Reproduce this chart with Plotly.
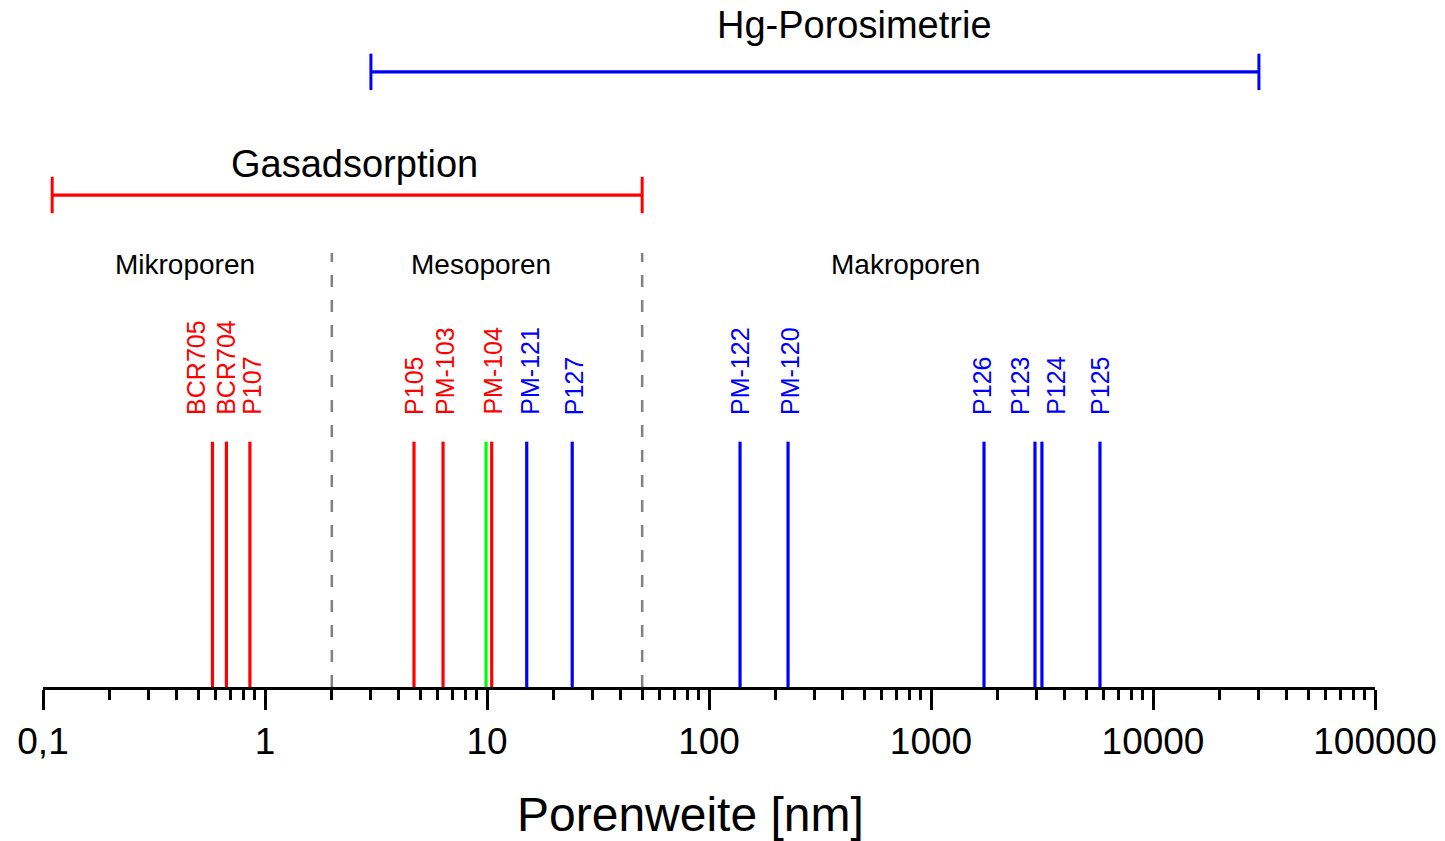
import math
import plotly.graph_objects as go

# ---- data ----
samples = ["BCR705", "BCR704", "P107", "P105", "PM-103", "PM-104",
           "PM-121", "P127", "PM-122", "PM-120", "P126", "P123", "P124", "P125"]
pore_width_nm = [0.58, 0.67, 0.855, 4.69, 6.34, 10.5,
                 15.1, 24.2, 138, 227, 1733, 2940, 3160, 5770]
sample_method = ["Gas", "Gas", "Gas", "Gas", "Gas", "Gas",
                 "Hg", "Hg", "Hg", "Hg", "Hg", "Hg", "Hg", "Hg"]
extra_line_nm = [9.9]          # unlabeled green line
line_height = 1.0

region_bounds_nm = [2, 50]     # micro/meso and meso/macro boundaries
region_names = ["Mikroporen", "Mesoporen", "Makroporen"]
region_label_x = [0.437, 9.4, 771]

gas_range_nm = [0.11, 50]
hg_range_nm = [3.0, 30000]
gas_title_x = 2.54
hg_title_x = 450

tick_vals = [0.1, 1, 10, 100, 1000, 10000, 100000]
tick_text = ["0,1", "1", "10", "100", "1000", "10000", "100000"]
x_title = "Porenweite [nm]"

# ---- styles ----
RED, BLUE, GREEN, GREY = "#FF0000", "#0000FF", "#00FF00", "#808080"
FONT = "Liberation Sans, Arial, sans-serif"
label_xshift = [-16, 0, 2, 0, 2, 1, 3, 2, 0, 2, -2, -15, 14, 0]

Y_MAX = 2.8
Y_LABEL = 1.113
Y_REGION_TOP = 1.769
Y_REGION_TEXT = 1.72
Y_GAS = 2.005
Y_HG = 2.507

fig = go.Figure()

# sample lines
for x, m in zip(pore_width_nm, sample_method):
    fig.add_trace(go.Scatter(x=[x, x], y=[0, line_height], mode="lines",
                             line=dict(color=RED if m == "Gas" else BLUE, width=3.2),
                             showlegend=False, hoverinfo="skip"))
for x in extra_line_nm:
    fig.add_trace(go.Scatter(x=[x, x], y=[0, line_height], mode="lines",
                             line=dict(color=GREEN, width=3.2),
                             showlegend=False, hoverinfo="skip"))

# region boundaries
for b in region_bounds_nm:
    fig.add_trace(go.Scatter(x=[b, b], y=[0, Y_REGION_TOP], mode="lines",
                             line=dict(color=GREY, width=2.5, dash="12px,13px"),
                             showlegend=False, hoverinfo="skip"))

# method ranges
for rng, yv, col in [(gas_range_nm, Y_GAS, RED), (hg_range_nm, Y_HG, BLUE)]:
    fig.add_trace(go.Scatter(x=rng, y=[yv, yv], mode="lines+markers",
                             line=dict(color=col, width=3.2),
                             marker=dict(symbol="line-ns", size=26,
                                         line=dict(color=col, width=3)),
                             showlegend=False, hoverinfo="skip"))

annotations = []
for s, x, m, dx in zip(samples, pore_width_nm, sample_method, label_xshift):
    annotations.append(dict(x=math.log10(x), y=Y_LABEL, xref="x", yref="y", text=s,
                            textangle=-90, showarrow=False, xanchor="center",
                            yanchor="bottom", xshift=dx, yshift=-3,
                            font=dict(family=FONT, size=25,
                                      color=RED if m == "Gas" else BLUE)))
for name, x in zip(region_names, region_label_x):
    annotations.append(dict(x=math.log10(x), y=Y_REGION_TEXT, xref="x", yref="y",
                            text=name, showarrow=False, xanchor="center",
                            yanchor="middle",
                            font=dict(family=FONT, size=28, color="black")))
annotations.append(dict(x=math.log10(gas_title_x), y=Y_GAS, xref="x", yref="y",
                        text="Gasadsorption", showarrow=False, xanchor="center",
                        yanchor="bottom", yshift=8,
                        font=dict(family=FONT, size=38, color="black")))
annotations.append(dict(x=math.log10(hg_title_x), y=Y_HG, xref="x", yref="y",
                        text="Hg-Porosimetrie", showarrow=False, xanchor="center",
                        yanchor="bottom", yshift=24,
                        font=dict(family=FONT, size=38, color="black")))
annotations.append(dict(x=0.486, y=0, xref="paper", yref="paper", text=x_title,
                        showarrow=False, xanchor="center", yanchor="middle",
                        yshift=-127, borderpad=0,
                        font=dict(family=FONT, size=48, color="black")))

minor_vals = [k * 10 ** e for e in range(-1, 5) for k in range(2, 10)]

fig.update_layout(
    width=1445, height=841,
    margin=dict(l=43, r=70, t=0, b=154),
    paper_bgcolor="white", plot_bgcolor="white",
    annotations=annotations,
    font=dict(family=FONT, color="black"),
    xaxis=dict(type="log", range=[-1, 5], showgrid=False, zeroline=False,
               showline=True, linecolor="black", linewidth=3,
               ticks="outside", ticklen=20, tickwidth=3, tickcolor="black",
               tickmode="array", tickvals=tick_vals, ticktext=tick_text,
               tickfont=dict(family=FONT, size=37, color="black"),
               minor=dict(ticks="outside", ticklen=10, tickwidth=3,
                          tickcolor="black", tickmode="array",
                          tickvals=minor_vals, showgrid=False)),
    yaxis=dict(range=[0, Y_MAX], visible=False, showgrid=False),
)

fig.write_html("out.html")
